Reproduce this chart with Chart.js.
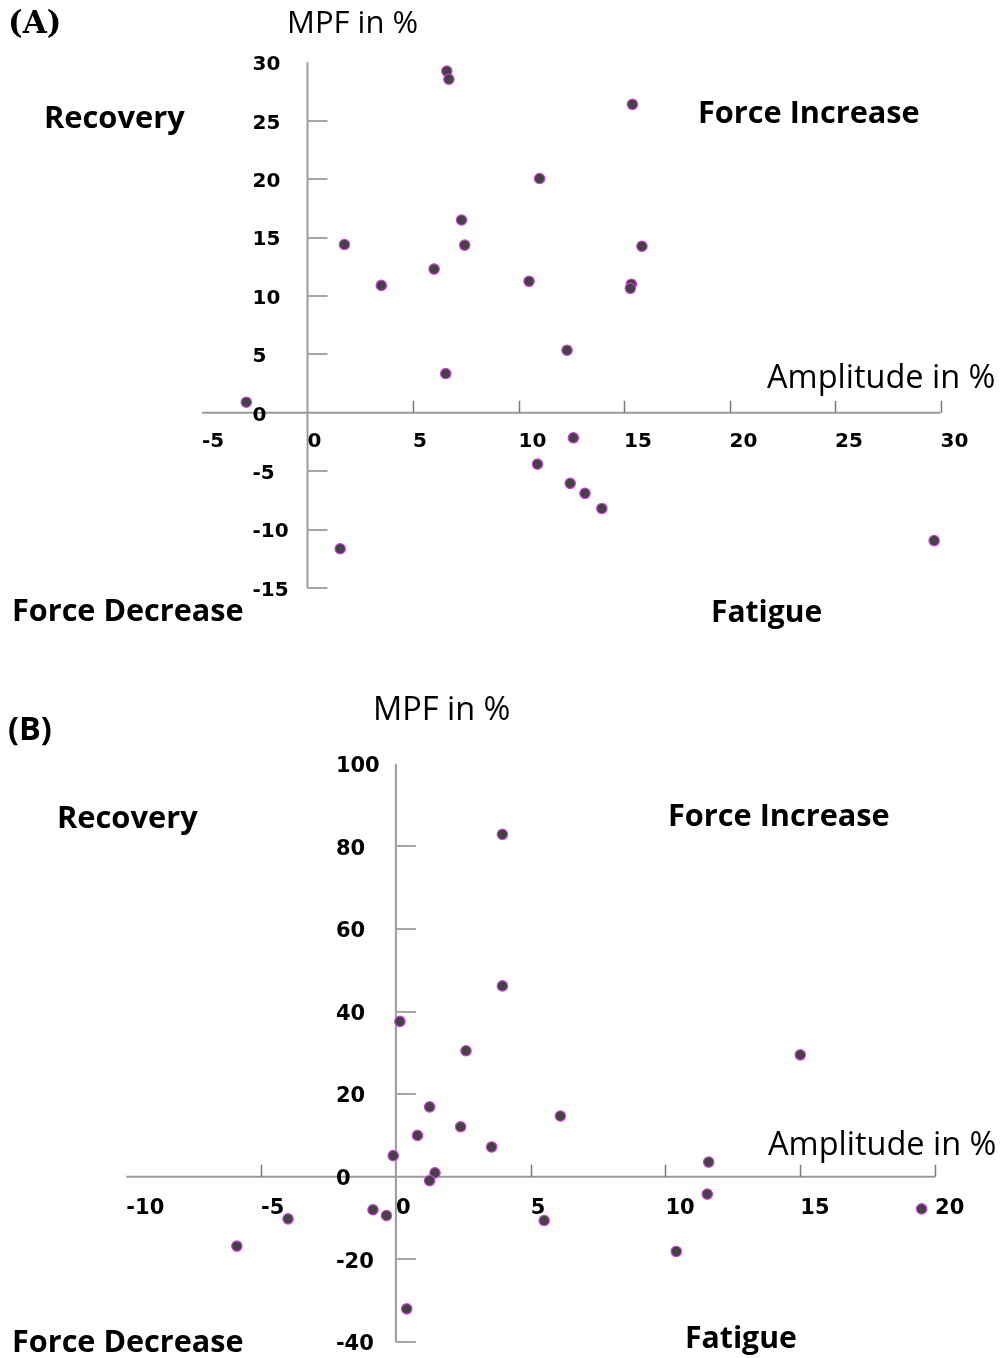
<!DOCTYPE html>
<html>
<head>
<meta charset="utf-8">
<title>MPF vs Amplitude</title>
<script src="https://cdn.jsdelivr.net/npm/chart.js@4"></script>
<style>
  body { margin: 0; background: #fff; }
  #page { position: relative; width: 1003px; height: 1358px; overflow: hidden; background: #fff; }
  canvas { position: absolute; left: 0; }
  .lbl { position: absolute; white-space: nowrap; line-height: 1; color: #000; font-family: "Open Sans", sans-serif; }
  .lbl i { display: inline-block; width: 0; height: 0; vertical-align: baseline; }
</style>
</head>
<body>
<div id="page">
  <canvas id="chartA" width="1003" height="650" style="top:0"></canvas>
  <canvas id="chartB" width="1003" height="708" style="top:650px"></canvas>
</div>
<script>
// (A) change in amplitude vs change in MPF, in %
const ampA = [6.6, 6.7, 15.4, 11.0, 7.3, 1.75, 7.45, 15.85, 6.0, 3.5, 10.5, 15.35, 15.3, 12.3, 6.55, -2.9, 12.6, 10.9, 12.45, 13.15, 13.95, 1.55, 29.7];
const mpfA = [29.25, 28.55, 26.4, 20.05, 16.5, 14.4, 14.35, 14.25, 12.3, 10.9, 11.25, 11.0, 10.65, 5.35, 3.35, 0.9, -2.15, -4.4, -6.05, -6.9, -8.2, -11.65, -10.95];
const xTicksA = [-5, 0, 5, 10, 15, 20, 25, 30];
const yTicksA = [-15, -10, -5, 0, 5, 10, 15, 20, 25, 30];

// (B)
const ampB = [3.95, 3.95, 0.15, 2.6, 15.0, 1.25, 6.1, 2.4, 0.8, 3.55, 11.6, -0.1, 1.45, 1.25, 11.55, -0.85, -0.35, -4.0, 5.5, 19.5, -5.9, 10.4, 0.4];
const mpfB = [82.9, 46.2, 37.6, 30.5, 29.5, 16.9, 14.7, 12.1, 10.0, 7.2, 3.55, 5.1, 0.95, -0.95, -4.2, -8.0, -9.4, -10.2, -10.6, -7.8, -16.8, -18.1, -32.0];
const xTicksB = [-10, -5, 0, 5, 10, 15, 20];
const yTicksB = [-40, -20, 0, 20, 40, 60, 80, 100];

// text round the plots: [text, left, baseline, size, bold, family]
const labels = [
  ['(A)', 8, 33, 31, true, 'DejaVu Serif'],
  ['MPF in %', 287, 33, 31, false],
  ['Recovery', 44, 128, 30.8, true],
  ['Force Increase', 698, 123, 30.7, true],
  ['Amplitude in %', 767, 388, 32.5, false],
  ['Force Decrease', 12, 621, 30.6, true],
  ['Fatigue', 711, 622, 30, true],
  ['(B)', 8, 740, 32.5, true],
  ['MPF in %', 373, 720, 32.5, false],
  ['Recovery', 57, 828, 30.8, true],
  ['Force Increase', 668, 826, 30.7, true],
  ['Amplitude in %', 768, 1155, 32.5, false],
  ['Force Decrease', 12, 1352, 30.6, true],
  ['Fatigue', 685, 1348, 30.2, true]
];

const page = document.getElementById('page');
labels.forEach(([text, left, base, size, bold, family]) => {
  const d = document.createElement('div');
  d.className = 'lbl';
  d.style.left = left + 'px';
  d.style.fontSize = size + 'px';
  d.style.fontWeight = bold ? '700' : '400';
  if (family) d.style.fontFamily = '"' + family + '", serif';
  d.textContent = text;
  const mark = document.createElement('i');
  d.appendChild(mark);
  page.appendChild(d);
  d.style.top = (base - mark.offsetTop) + 'px';
});

// axes crossing at zero, ticks drawn from the chart's own scales
const crossAxes = {
  id: 'crossAxes',
  beforeDatasetsDraw(chart, args, o) {
    const { ctx, scales: { x, y } } = chart;
    const x0 = x.getPixelForValue(0);
    const y0 = y.getPixelForValue(0);
    const xMin = o.xTicks[0];
    const yMax = o.yTicks[o.yTicks.length - 1];
    ctx.save();
    ctx.strokeStyle = '#9a9a9a';
    ctx.lineWidth = 2;
    ctx.beginPath();
    ctx.moveTo(x.left, y0); ctx.lineTo(x.right, y0);
    ctx.moveTo(x0, y.top); ctx.lineTo(x0, y.bottom);
    ctx.stroke();

    ctx.strokeStyle = '#7a7a7a';
    ctx.lineWidth = 1.5;
    ctx.beginPath();
    o.xTicks.forEach(v => {
      if (v === 0 || v === xMin) return;
      const px = Math.round(x.getPixelForValue(v)) + 0.5;
      ctx.moveTo(px, y0); ctx.lineTo(px, y0 - o.xTickLen);
    });
    ctx.stroke();

    ctx.strokeStyle = '#a6a6a6';
    ctx.lineWidth = 2;
    ctx.beginPath();
    o.yTicks.forEach(v => {
      if (v === 0 || v === yMax) return;
      const py = Math.round(y.getPixelForValue(v));
      ctx.moveTo(x0, py); ctx.lineTo(x0 + o.yTickLen, py);
    });
    ctx.stroke();

    ctx.fillStyle = '#000';
    ctx.font = 'bold ' + o.fontSize + 'px "DejaVu Sans", sans-serif';
    ctx.textAlign = 'left';
    ctx.textBaseline = 'alphabetic';
    o.xTicks.forEach(v => ctx.fillText(String(v), x.getPixelForValue(v), y0 + o.xLabelDy));
    o.yTicks.forEach(v => ctx.fillText(String(v), x0 - o.yLabelDx, y.getPixelForValue(v) + o.yLabelDy));
    ctx.restore();
  }
};

function scatter(id, xs, ys, xTicks, yTicks, padding, axisOpts) {
  const points = xs.map((v, i) => ({ x: v, y: ys[i] }));
  return new Chart(document.getElementById(id), {
    type: 'scatter',
    data: {
      datasets: [{
        data: points,
        pointRadius: 5.2,
        pointBorderWidth: 1.2,
        pointBackgroundColor: '#434343',
        pointBorderColor: '#d23fe0',
        clip: false
      }]
    },
    options: {
      responsive: false,
      animation: false,
      devicePixelRatio: 1,
      events: [],
      layout: { padding },
      plugins: {
        legend: { display: false },
        tooltip: { enabled: false },
        crossAxes: Object.assign({ xTicks, yTicks }, axisOpts)
      },
      scales: {
        x: { type: 'linear', min: xTicks[0], max: xTicks[xTicks.length - 1], display: false },
        y: { type: 'linear', min: yTicks[0], max: yTicks[yTicks.length - 1], display: false }
      }
    },
    plugins: [crossAxes]
  });
}

scatter('chartA', ampA, mpfA, xTicksA, yTicksA,
  { left: 202, right: 62.5, top: 62.3, bottom: 62.1 },
  { fontSize: 20, xTickLen: 12, yTickLen: 20, xLabelDy: 34, yLabelDx: 55, yLabelDy: 7.8 });

scatter('chartB', ampB, mpfB, xTicksB, yTicksB,
  { left: 126.3, right: 67.9, top: 113.7, bottom: 16.1 },
  { fontSize: 21, xTickLen: 12, yTickLen: 20, xLabelDy: 37.5, yLabelDx: 60, yLabelDy: 8.2 });
</script>
</body>
</html>
